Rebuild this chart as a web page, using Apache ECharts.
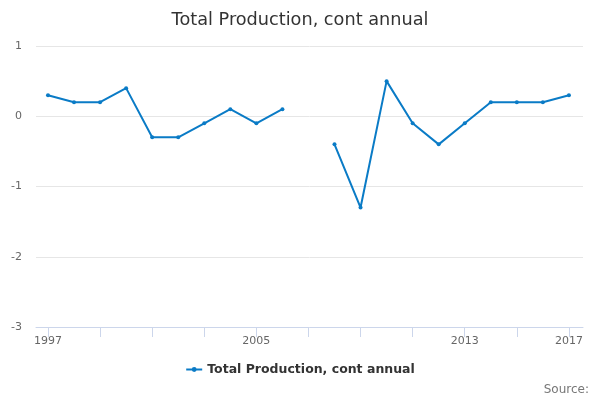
<!DOCTYPE html>
<html>
<head>
<meta charset="UTF-8">
<title>Total Production, cont annual</title>
<script src="https://cdn.jsdelivr.net/npm/echarts@6/dist/echarts.min.js"></script>
<style>
  html, body { margin: 0; padding: 0; background: #fff; }
  #chart { width: 600px; height: 400px; }
</style>
</head>
<body>
<div id="chart"></div>
<script>
var years = [1997, 1998, 1999, 2000, 2001, 2002, 2003, 2004, 2005, 2006, 2007,
             2008, 2009, 2010, 2011, 2012, 2013, 2014, 2015, 2016, 2017];
var values = [0.3, 0.2, 0.2, 0.4, -0.3, -0.3, -0.1, 0.1, -0.1, 0.1, null,
              -0.4, -1.3, 0.5, -0.1, -0.4, -0.1, 0.2, 0.2, 0.2, 0.3];
var tickYears = [1997, 1999, 2001, 2003, 2005, 2007, 2009, 2011, 2013, 2015, 2017];
var labelYears = [1997, 2005, 2013, 2017];
var seriesName = 'Total Production, cont annual';

var points = years.map(function (y, i) { return [y, values[i]]; });

var font = '"DejaVu Sans", "Noto Sans", sans-serif';
var chart = echarts.init(document.getElementById('chart'));
chart.setOption({
  animation: false,
  textStyle: { fontFamily: font },
  title: {
    text: 'Total Production, cont annual',
    left: 'center',
    top: 6,
    textStyle: { fontSize: 17.7, fontWeight: 'normal', color: '#333', fontFamily: font }
  },
  legend: {
    data: [seriesName],
    bottom: 19,
    left: 'center',
    itemWidth: 16,
    itemHeight: 6,
    itemGap: 4,
    textStyle: { fontSize: 12.5, fontWeight: 'bold', color: '#333', fontFamily: font }
  },
  graphic: [{
    type: 'text',
    right: 11,
    bottom: 4,
    style: { text: 'Source:', fontSize: 12, fill: '#777', fontFamily: font }
  }],
  grid: { left: 36, right: 17, top: 46, bottom: 73 },
  xAxis: {
    type: 'value',
    min: 1996.54,
    max: 2017.54,
    splitLine: { show: false },
    axisLine: { onZero: false, lineStyle: { color: '#ccd6eb' } },
    axisTick: { length: 10, customValues: tickYears, lineStyle: { color: '#ccd6eb' } },
    axisLabel: {
      customValues: labelYears,
      color: '#666',
      fontSize: 11,
      margin: 9,
      formatter: function (v) { return String(v); }
    }
  },
  yAxis: {
    type: 'value',
    min: -3,
    max: 1,
    interval: 1,
    axisLine: { show: false },
    axisTick: { show: false },
    splitLine: { lineStyle: { color: '#e6e6e6' } },
    axisLabel: { color: '#666', fontSize: 11, margin: 14 }
  },
  series: [{
    name: seriesName,
    type: 'line',
    data: points,
    connectNulls: false,
    symbol: 'circle',
    symbolSize: 4,
    lineStyle: { width: 2, color: '#0a7bc6' },
    itemStyle: { color: '#0a7bc6' }
  }]
});
</script>
</body>
</html>
